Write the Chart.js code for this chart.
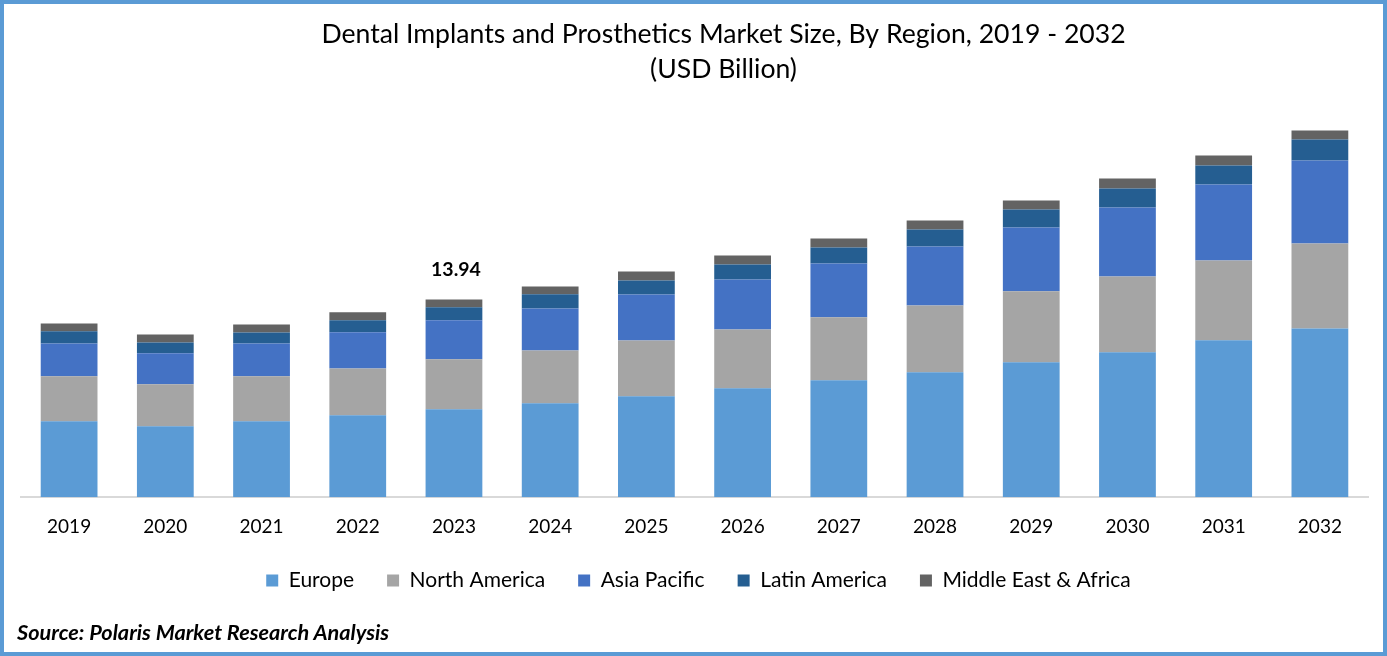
<!DOCTYPE html>
<html>
<head>
<meta charset="utf-8">
<title>Dental Implants and Prosthetics Market Size</title>
<script src="https://cdn.jsdelivr.net/npm/chart.js@4"></script>
<style>
    html, body { margin: 0; padding: 0; background: #fff; overflow: hidden; }
    #wrap { position: relative; width: 1387px; height: 656px; }
    #frame {
        position: absolute; left: 0; top: 0; width: 1387px; height: 656px;
        box-sizing: border-box; border: 4px solid #5b9bd5; pointer-events: none;
    }
    #source {
        position: absolute; left: 17px; top: 619px; color: #000;
        font: italic bold 21.7px Lato, sans-serif;
    }
</style>
</head>
<body>
<div id="wrap">
    <canvas id="marketChart" width="1387" height="656"></canvas>
    <div id="frame"></div>
    <div id="source">Source: Polaris Market Research Analysis</div>
</div>
<script>
const years = ["2019", "2020", "2021", "2022", "2023", "2024", "2025", "2026", "2027", "2028", "2029", "2030", "2031", "2032"];

const europe = [5.35, 5.00, 5.35, 5.77, 6.20, 6.62, 7.11, 7.68, 8.24, 8.80, 9.51, 10.21, 11.06, 11.90];
const northAmerica = [3.17, 2.96, 3.17, 3.31, 3.52, 3.73, 3.94, 4.15, 4.44, 4.72, 5.00, 5.35, 5.63, 5.99];
const asiaPacific = [2.32, 2.18, 2.32, 2.54, 2.75, 2.96, 3.24, 3.52, 3.80, 4.15, 4.51, 4.86, 5.35, 5.85];
const latinAmerica = [0.85, 0.77, 0.77, 0.85, 0.92, 0.99, 0.99, 1.06, 1.13, 1.20, 1.27, 1.34, 1.34, 1.48];
const middleEastAfrica = [0.56, 0.56, 0.56, 0.56, 0.55, 0.56, 0.63, 0.63, 0.63, 0.63, 0.63, 0.70, 0.70, 0.63];

const labelledYear = "2023";
const labelledValue = "13.94";

// only one bar carries a total above it
const totalLabel = {
    id: "totalLabel",
    afterDatasetsDraw(chart) {
        const i = years.indexOf(labelledYear);
        const total = chart.data.datasets.reduce((sum, d) => sum + d.data[i], 0);
        const x = chart.scales.x.getPixelForValue(i);
        const y = chart.scales.y.getPixelForValue(total);
        const ctx = chart.ctx;
        ctx.save();
        ctx.font = "bold 19.5px Lato, sans-serif";
        ctx.fillStyle = "#000";
        ctx.textAlign = "center";
        ctx.textBaseline = "middle";
        ctx.fillText(labelledValue, x + 2, y - 30);
        ctx.restore();
    }
};

// title and legend are not centred on the plot in the original
const nudgeBoxes = {
    id: "nudgeBoxes",
    afterLayout(chart) {
        chart.titleBlock.left += 29;
        chart.titleBlock.right += 29;
        chart.legend.left += 4;
        chart.legend.right += 4;
        chart.legend.top -= 11;
        chart.legend.bottom -= 11;
    }
};

new Chart(document.getElementById("marketChart"), {
    type: "bar",
    data: {
        labels: years,
        datasets: [
            { label: "Europe", data: europe, backgroundColor: "#5b9bd5" },
            { label: "North America", data: northAmerica, backgroundColor: "#a5a5a5" },
            { label: "Asia Pacific", data: asiaPacific, backgroundColor: "#4472c4" },
            { label: "Latin America", data: latinAmerica, backgroundColor: "#255e91" },
            { label: "Middle East & Africa", data: middleEastAfrica, backgroundColor: "#636363" }
        ]
    },
    options: {
        responsive: false,
        animation: false,
        devicePixelRatio: 1,
        categoryPercentage: 1,
        barPercentage: 0.59,
        layout: { padding: { left: 21, right: 19, top: 0, bottom: 44 } },
        plugins: {
            tooltip: { enabled: false },
            title: {
                display: true,
                text: ["Dental Implants and Prosthetics Market Size, By Region, 2019 - 2032", "(USD Billion)"],
                color: "#000",
                font: { family: "Lato", size: 26.6, weight: "normal", lineHeight: 1.316 },
                padding: { top: 17, bottom: 13 }
            },
            legend: {
                position: "bottom",
                labels: {
                    color: "#000",
                    font: { family: "Lato", size: 21 },
                    boxWidth: 12,
                    boxHeight: 12,
                    padding: 33
                }
            }
        },
        scales: {
            x: {
                stacked: true,
                grid: { display: false },
                border: { color: "#d9d9d9", width: 2 },
                ticks: { color: "#000", font: { family: "Lato", size: 19 }, padding: 10, maxRotation: 0 }
            },
            y: {
                stacked: true,
                display: false,
                min: 0,
                max: 28
            }
        }
    },
    plugins: [totalLabel, nudgeBoxes]
});
</script>
</body>
</html>
